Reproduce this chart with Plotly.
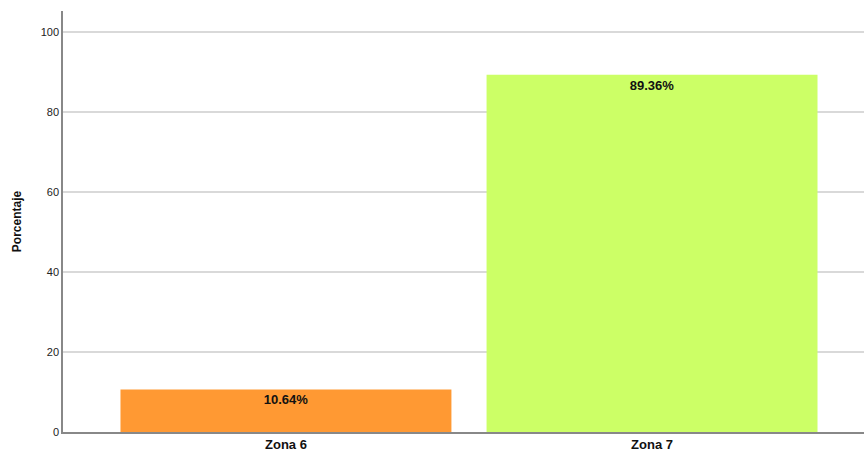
import plotly.graph_objects as go

categories = ["Zona 6", "Zona 7"]
values = [10.64, 89.36]
labels = ["10.64%", "89.36%"]
colors = ["#FF9933", "#CCFF66"]

fig = go.Figure(go.Bar(
    x=categories, y=values, text=labels,
    textposition="inside", insidetextanchor="end", textangle=0,
    textfont=dict(family="Liberation Sans Narrow, Arial Narrow, Liberation Sans", size=13, color="#111111", weight="bold"),
    marker=dict(color=colors, line=dict(width=0)),
    width=0.904, cliponaxis=False,
))
fig.update_layout(
    width=864, height=452,
    margin=dict(l=63, r=0, t=11, b=20),
    paper_bgcolor="white", plot_bgcolor="white",
    showlegend=False,
    uniformtext=dict(mode=False),
    xaxis=dict(range=[-0.609, 1.579], showgrid=False, showline=True, linecolor="#888888", linewidth=1.5,
               ticks="", tickfont=dict(family="Liberation Sans Narrow, Arial Narrow, Liberation Sans", size=13, color="#111111", weight="bold")),
    yaxis=dict(range=[0, 105.3], tickvals=[0, 20, 40, 60, 80, 100], showgrid=True, gridcolor="#D9D9D9", gridwidth=1.5,
               showline=True, linecolor="#888888", linewidth=1.5, ticks="", zeroline=False,
               tickfont=dict(family="Liberation Sans, Arial", size=11, color="#222222"),
               title=dict(text="Porcentaje", font=dict(family="Liberation Sans, Arial", size=12, color="#111111", weight="bold"), standoff=16)),
)
fig.write_html("out.html")
